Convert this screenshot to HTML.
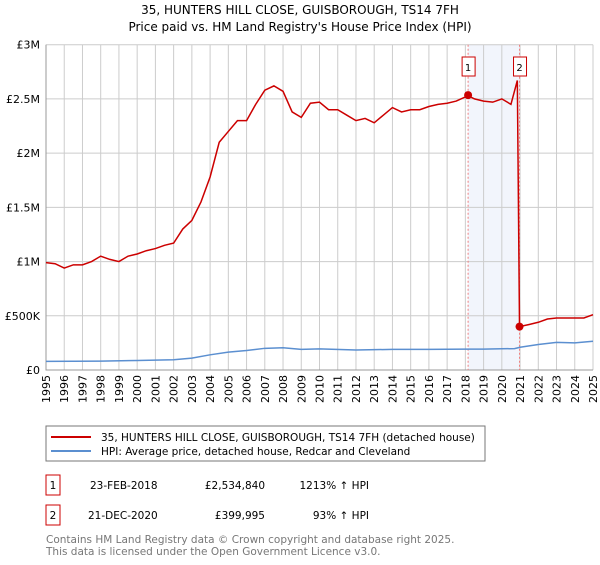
<!DOCTYPE html>
<html><head><meta charset="utf-8"><style>
body{margin:0;background:#fff;font-family:"Liberation Sans","DejaVu Sans",sans-serif;}
svg text{font-family:"DejaVu Sans","Liberation Sans",sans-serif;}
</style></head><body>
<svg id="c" width="600" height="560" xmlns="http://www.w3.org/2000/svg">
<text x="300" y="14" text-anchor="middle" font-size="12">35, HUNTERS HILL CLOSE, GUISBOROUGH, TS14 7FH</text>
<text x="300" y="31" text-anchor="middle" font-size="12">Price paid vs. HM Land Registry's House Price Index (HPI)</text>
<g id="grid"></g><g id="marks"></g>
<rect x="46" y="426" width="439" height="35" fill="#fff" stroke="#777"/>
<line x1="51" y1="437" x2="91" y2="437" stroke="#cc0000" stroke-width="2"/>
<text x="101" y="441" font-size="10.5">35, HUNTERS HILL CLOSE, GUISBOROUGH, TS14 7FH (detached house)</text>
<line x1="51" y1="451" x2="91" y2="451" stroke="#5b8fd0" stroke-width="2"/>
<text x="101" y="455" font-size="10.5">HPI: Average price, detached house, Redcar and Cleveland</text>
<g font-size="10.5">
<rect x="46" y="475" width="14" height="20" fill="none" stroke="#cc0000"/>
<text x="53" y="489" text-anchor="middle">1</text>
<text x="90" y="489">23-FEB-2018</text>
<text x="265" y="489" text-anchor="end">£2,534,840</text>
<text x="369" y="489" text-anchor="end">1213% ↑ HPI</text>
<rect x="46" y="505" width="14" height="20" fill="none" stroke="#cc0000"/>
<text x="53" y="519" text-anchor="middle">2</text>
<text x="88" y="519">21-DEC-2020</text>
<text x="265" y="519" text-anchor="end">£399,995</text>
<text x="369" y="519" text-anchor="end">93% ↑ HPI</text>
</g>
<text x="46" y="543" font-size="10.5" fill="#777">Contains HM Land Registry data © Crown copyright and database right 2025.</text>
<text x="46" y="555" font-size="10.5" fill="#777">This data is licensed under the Open Government Licence v3.0.</text>
</svg>
<script>
const yTicks=[0,500000,1000000,1500000,2000000,2500000,3000000];
const yTickLabels=["£0","£500K","£1M","£1.5M","£2M","£2.5M","£3M"];
const years=[1995,1996,1997,1998,1999,2000,2001,2002,2003,2004,2005,2006,2007,2008,2009,2010,2011,2012,2013,2014,2015,2016,2017,2018,2019,2020,2021,2022,2023,2024,2025];
const redT=[1995,1995.5,1996,1996.5,1997,1997.5,1998,1998.5,1999,1999.5,2000,2000.5,2001,2001.5,2002,2002.5,2003,2003.5,2004,2004.5,2005,2005.5,2006,2006.5,2007,2007.5,2008,2008.5,2009,2009.5,2010,2010.5,2011,2011.5,2012,2012.5,2013,2013.5,2014,2014.5,2015,2015.5,2016,2016.5,2017,2017.5,2018.15,2018.5,2019,2019.5,2020,2020.5,2020.85,2020.97,2021.5,2022,2022.5,2023,2023.5,2024,2024.5,2025];
const redV=[0.99,0.98,0.94,0.97,0.97,1.0,1.05,1.02,1.0,1.05,1.07,1.1,1.12,1.15,1.17,1.3,1.38,1.55,1.78,2.1,2.2,2.3,2.3,2.45,2.58,2.62,2.57,2.38,2.33,2.46,2.47,2.4,2.4,2.35,2.3,2.32,2.28,2.35,2.42,2.38,2.4,2.4,2.43,2.45,2.46,2.48,2.53,2.5,2.48,2.47,2.5,2.45,2.67,0.4,0.42,0.44,0.47,0.48,0.48,0.48,0.48,0.51];
const hpiT=[1995,1998,2000,2002,2003,2004,2005,2006,2007,2008,2009,2010,2012,2014,2016,2018,2019,2020,2020.7,2021,2022,2023,2024,2025];
const hpiV=[80000,82000,88000,95000,110000,140000,165000,180000,200000,205000,190000,195000,185000,190000,190000,193000,192000,196000,197000,210000,235000,255000,250000,265000];
const sales=[[2018.15,2534840],[2020.97,399995]];
const X0=46,X1=593,Y0=370,Y1=44.7;
const xs=t=>X0+(t-1995)/30*(X1-X0);
const ys=v=>Y0-v/3000000*(Y0-Y1);
const NS="http://www.w3.org/2000/svg";
const grid=document.getElementById('grid'),marks=document.getElementById('marks');
function mk(tag,attrs,parent){const e=document.createElementNS(NS,tag);for(const k in attrs)e.setAttribute(k,attrs[k]);parent.appendChild(e);return e;}
let e=mk('rect',{x:xs(sales[0][0]),y:Y1,width:xs(sales[1][0])-xs(sales[0][0]),height:Y0-Y1,fill:'#f2f5fc'},grid);


years.forEach(y=>{
 let l=mk('line',{x1:xs(y),x2:xs(y),y1:Y1,y2:Y0,stroke:'#ccc'},grid);
 
 
 const tx=xs(y)+4, ty=Y0+5;
 let t=mk('text',{x:tx,y:ty,'font-size':'11','text-anchor':'end',transform:'rotate(-90 '+tx+' '+ty+')'},grid);
 t.textContent=y;
 
 
});
yTicks.forEach((v,i)=>{
 let l=mk('line',{x1:X0,x2:X1,y1:ys(v),y2:ys(v),stroke:'#ccc'},grid);
 
 
 let t=mk('text',{x:X0-6,y:ys(v)+4,'font-size':'11','text-anchor':'end'},grid);
 t.textContent=yTickLabels[i];
 
 
});
let ax=mk('path',{d:`M${X0},${Y1}V${Y0}H${X1}`,fill:'none',stroke:'#999'},grid);


sales.forEach((s,i)=>{
 let l=mk('line',{x1:xs(s[0]),x2:xs(s[0]),y1:Y1,y2:Y0,stroke:'#f08080','stroke-dasharray':'2,2'},marks);
 
 
 let r=mk('rect',{x:xs(s[0])-6,y:57,width:13,height:19,fill:'#fff',stroke:'#cc0000'},marks);
 
 
 let t=mk('text',{x:xs(s[0]),y:71,'font-size':'10','text-anchor':'middle'},marks);
 t.textContent=String(i+1);
 
 
});
let hp=mk('polyline',{points:hpiT.map((t,i)=>xs(t)+','+ys(hpiV[i])).join(' '),fill:'none',stroke:'#5b8fd0','stroke-width':1.5},marks);


let rp=mk('polyline',{points:redT.map((t,i)=>xs(t)+','+ys(redV[i]*1e6)).join(' '),fill:'none',stroke:'#cc0000','stroke-width':1.5},marks);


sales.forEach(s=>{
 let c=mk('circle',{cx:xs(s[0]),cy:ys(s[1]),r:4,fill:'#cc0000'},marks);
 
 
});
</script>
</body></html>
